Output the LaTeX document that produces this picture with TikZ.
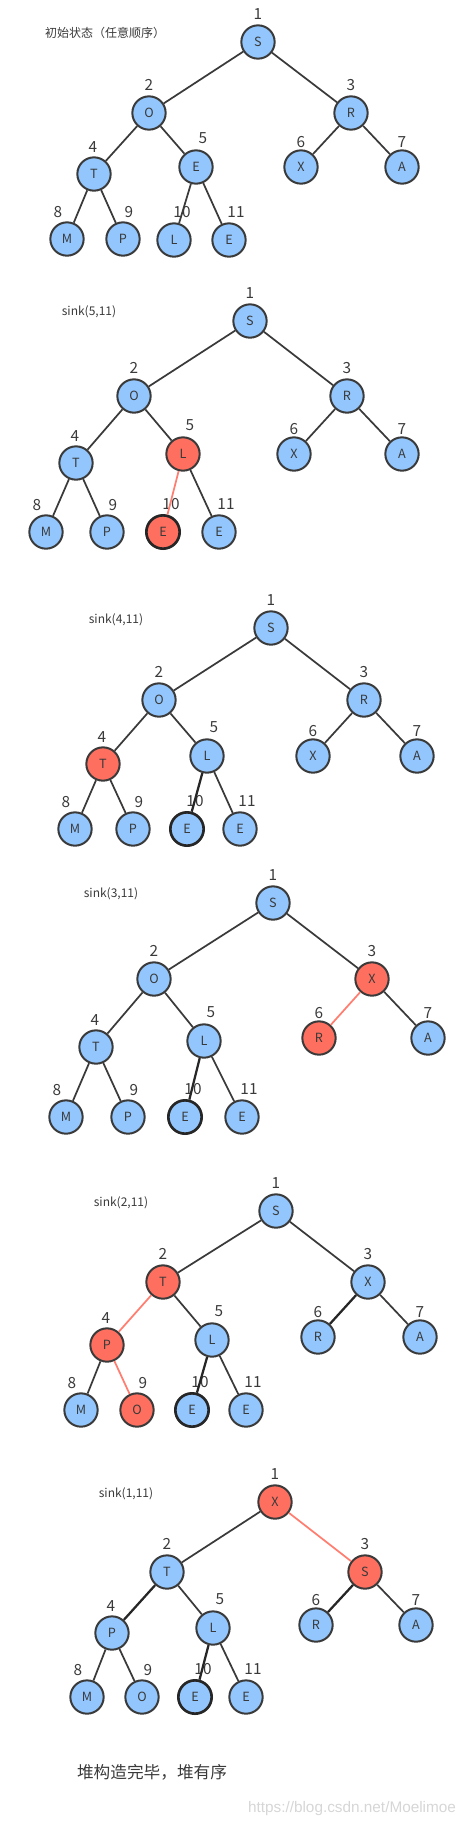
\documentclass[tikz,border=0pt]{standalone}
\usepackage{fontspec}
\setmainfont{Noto Sans CJK SC}
\newfontfamily\markfont{Liberation Sans}
\usepackage{tikz}
\usetikzlibrary{calc}
\definecolor{keyblue}{HTML}{92C6FD}
\definecolor{keyred}{HTML}{FF6F5F}
\definecolor{inkgray}{HTML}{3A3A3A}
\definecolor{swapred}{HTML}{FF7E70}
\tikzset{
  key/.style={circle,draw=inkgray,line width=1.5pt,minimum size=25pt,inner sep=0pt,
              fill=keyblue,font=\fontsize{9.5}{10}\selectfont,text=inkgray},
  last/.style={key,line width=2pt,draw=black!85},
  num/.style={font=\fontsize{11.5}{12}\selectfont,text=inkgray,inner sep=0pt},
  title/.style={font=\fontsize{9}{10}\selectfont,text=inkgray},
  edge/.style={line width=1.3pt,draw=inkgray},
  swap/.style={line width=1.3pt,draw=swapred},
  kept/.style={line width=1.7pt,draw=black!85}
}
% index label offsets (px), same for every tree
\newcommand\numpos{1/0/-28,2/0/-28,3/0/-28,4/-1/-27,5/7/-29,6/0/-25,7/0/-25,
  8/-9/-27,9/6/-27,10/8/-28,11/7/-28}

\begin{document}
\begin{tikzpicture}[x=0.75pt,y=-0.75pt]
  \useasboundingbox (0,0) rectangle (469,1828);

  % initial state
  \node[title] (ta) at (105,33) {初始状态（任意顺序）};
  \foreach \n/\x/\y/\t/\f in {1/258/42/S/keyblue,2/149/113/O/keyblue,3/351/113/R/keyblue,
      4/94/174/T/keyblue,5/196/167/E/keyblue,6/301/167/X/keyblue,7/402/167/A/keyblue,
      8/67/239/M/keyblue,9/123/239/P/keyblue,11/229/240/E/keyblue}
    \node[key,fill=\f] (a\n) at (\x,\y) {\t};
  \node[key] (a10) at (174,240) {L};
  \foreach \n/\dx/\dy in \numpos
    \node[num] (a\n-i) at ($(a\n)+(\dx,\dy)$) {\n};
  \foreach \u/\v in {1/2,1/3,2/4,2/5,3/6,3/7,4/8,4/9,5/10,5/11}
    \draw[edge] (a\u)--(a\v);

  % sink(5,11)
  \node[title] (tb) at (89,312) {sink(5,11)};
  \foreach \n/\x/\y/\t/\f in {1/250/321/S/keyblue,2/134/396/O/keyblue,3/347/396/R/keyblue,
      4/76/463/T/keyblue,5/183/454/L/keyred,6/294/454/X/keyblue,7/402/454/A/keyblue,
      8/46/532/M/keyblue,9/107/532/P/keyblue,11/219/532/E/keyblue}
    \node[key,fill=\f] (b\n) at (\x,\y) {\t};
  \node[last,fill=keyred] (b10) at (163,532) {E};
  \foreach \n/\dx/\dy in \numpos
    \node[num] (b\n-i) at ($(b\n)+(\dx,\dy)$) {\n};
  \foreach \u/\v in {1/2,1/3,2/4,2/5,3/6,3/7,4/8,4/9,5/11}
    \draw[edge] (b\u)--(b\v);
  \draw[swap] (b5)--(b10);

  % sink(4,11)
  \node[title] (tc) at (116,620) {sink(4,11)};
  \foreach \n/\x/\y/\t/\f in {1/271/628/S/keyblue,2/159/700/O/keyblue,3/364/700/R/keyblue,
      4/103/764/T/keyred,5/207/756/L/keyblue,6/313/756/X/keyblue,7/417/756/A/keyblue,
      8/75/829/M/keyblue,9/133/829/P/keyblue,11/240/829/E/keyblue}
    \node[key,fill=\f] (c\n) at (\x,\y) {\t};
  \node[last] (c10) at (187,829) {E};
  \foreach \n/\dx/\dy in \numpos
    \node[num] (c\n-i) at ($(c\n)+(\dx,\dy)$) {\n};
  \foreach \u/\v in {1/2,1/3,2/4,2/5,3/6,3/7,4/8,4/9,5/11}
    \draw[edge] (c\u)--(c\v);
  \draw[kept] (c5)--(c10);

  % sink(3,11)
  \node[title] (td) at (111,894) {sink(3,11)};
  \foreach \n/\x/\y/\t/\f in {1/273/903/S/keyblue,2/154/979/O/keyblue,3/372/979/X/keyred,
      4/96/1047/T/keyblue,5/204/1041/L/keyblue,6/319/1038/R/keyred,7/428/1038/A/keyblue,
      8/66/1117/M/keyblue,9/128/1117/P/keyblue,11/242/1117/E/keyblue}
    \node[key,fill=\f] (d\n) at (\x,\y) {\t};
  \node[last] (d10) at (185,1117) {E};
  \foreach \n/\dx/\dy in \numpos
    \node[num] (d\n-i) at ($(d\n)+(\dx,\dy)$) {\n};
  \foreach \u/\v in {1/2,1/3,2/4,2/5,3/7,4/8,4/9,5/11}
    \draw[edge] (d\u)--(d\v);
  \draw[kept] (d5)--(d10);
  \draw[swap] (d3)--(d6);

  % sink(2,11)
  \node[title] (te) at (121,1203) {sink(2,11)};
  \foreach \n/\x/\y/\t/\f in {1/276/1211/S/keyblue,2/163/1282/T/keyred,3/368/1282/X/keyblue,
      4/107/1345/P/keyred,5/212/1340/L/keyblue,6/318/1337/R/keyblue,7/420/1337/A/keyblue,
      8/81/1410/M/keyblue,9/137/1410/O/keyred,11/246/1410/E/keyblue}
    \node[key,fill=\f] (e\n) at (\x,\y) {\t};
  \node[last] (e10) at (192,1410) {E};
  \foreach \n/\dx/\dy in \numpos
    \node[num] (e\n-i) at ($(e\n)+(\dx,\dy)$) {\n};
  \foreach \u/\v in {1/2,1/3,2/5,3/7,4/8,5/11}
    \draw[edge] (e\u)--(e\v);
  \draw[kept] (e5)--(e10) (e3)--(e6);
  \draw[swap] (e2)--(e4) (e4)--(e9);

  % sink(1,11)
  \node[title] (tf) at (126,1494) {sink(1,11)};
  \foreach \n/\x/\y/\t/\f in {1/275/1502/X/keyred,2/167/1572/T/keyblue,3/365/1572/S/keyred,
      4/112/1633/P/keyblue,5/213/1628/L/keyblue,6/316/1625/R/keyblue,7/416/1625/A/keyblue,
      8/87/1697/M/keyblue,9/142/1697/O/keyblue,11/246/1697/E/keyblue}
    \node[key,fill=\f] (f\n) at (\x,\y) {\t};
  \node[last] (f10) at (195,1697) {E};
  \foreach \n/\dx/\dy in \numpos
    \node[num] (f\n-i) at ($(f\n)+(\dx,\dy)$) {\n};
  \foreach \u/\v in {1/2,2/5,3/7,4/8,4/9,5/11}
    \draw[edge] (f\u)--(f\v);
  \draw[kept] (f5)--(f10) (f3)--(f6) (f2)--(f4);
  \draw[swap] (f1)--(f3);

  \node[font=\fontsize{12.5}{14}\selectfont,text=inkgray] (done) at (152,1772)
    {堆构造完毕，堆有序};
  \node[font=\markfont\fontsize{11.5}{12}\selectfont,text=black!16] (mark) at (352,1809)
    {https://blog.csdn.net/Moelimoe};
\end{tikzpicture}
\end{document}
